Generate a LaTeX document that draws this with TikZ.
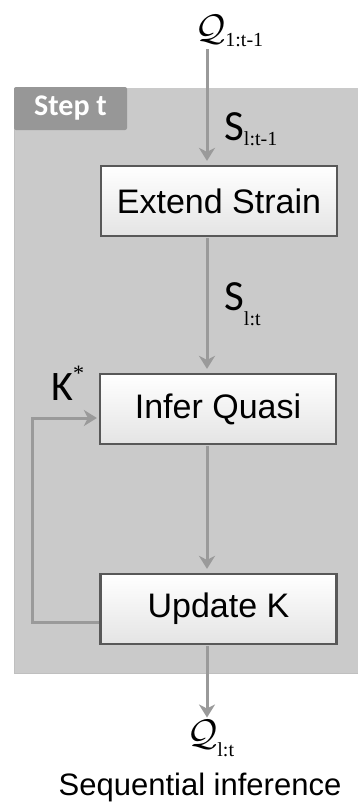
\documentclass[tikz,border=0pt]{standalone}
\usepackage{graphicx}
\usepackage{fontspec}
\setmainfont{Liberation Sans}
\newfontfamily\calib{Carlito}
\newfontfamily\tms{Liberation Serif}
\usetikzlibrary{arrows.meta}
\definecolor{panelgray}{HTML}{CACACA}
\definecolor{tabgray}{HTML}{979797}
\definecolor{arrowgray}{HTML}{9A9A9A}
\definecolor{boxborder}{HTML}{585858}
\definecolor{boxfill}{HTML}{E4E4E4}
\newcommand{\bigQ}{\scalebox{3.7}{$\mathcal{Q}$}}
\begin{document}
\begin{tikzpicture}[x=1pt,y=-1pt,
  flow/.style={draw=arrowgray, line width=3pt, -{Stealth[length=13pt,width=16pt,inset=4pt]}, shorten >=4pt},
  procbox/.style={draw=boxborder, line width=2.2pt, top color=white, bottom color=boxfill,
    minimum width=236pt, minimum height=70pt, inner sep=0pt, font=\fontsize{34}{40}\selectfont},
  lab/.style={anchor=base west, inner sep=0pt}]
\useasboundingbox (0,0) rectangle (358,806);
% panel
\fill[panelgray] (14,88) rectangle (358,674);
\draw[black!25, line width=0.8pt] (14.4,88) -- (14.4,673.6) -- (358,673.6);
\node[fill=tabgray, minimum width=113pt, minimum height=43pt, rounded corners=2pt, text=white,
  inner sep=0pt, font=\calib\bfseries\fontsize{30}{32}\selectfont] (tab) at (70.5,108.5) {Step t};
% boxes
\node[procbox] (extend) at (219,201) {Extend Strain};
\node[procbox] (infer) at (218,409) {Infer Quasi};
\node[procbox] (update) at (218.5,609) {Update K};
% labels
\node[lab] (qin) at (195,40) {\bigQ\raisebox{-6pt}{\tms\fontsize{20}{22}\selectfont 1:t-1}};
\node[lab] (s1) at (224,140) {\calib\fontsize{43}{45}\selectfont S\raisebox{-5pt}{\tms\fontsize{20}{22}\selectfont l:t-1}};
\node[lab] (s2) at (224,310) {\calib\fontsize{43}{45}\selectfont S\raisebox{-15pt}{\tms\fontsize{20}{22}\selectfont l:t}};
\node[lab] (kstar) at (51,400) {\calib\fontsize{42}{45}\selectfont K\raisebox{20pt}{\tms\fontsize{22}{24}\selectfont *}};
\node[lab] (qout) at (187,745) {\bigQ\raisebox{-11pt}{\tms\fontsize{20}{22}\selectfont l:t}};
\node (title) at (200,787) {\fontsize{31}{34}\selectfont Sequential inference};
% connectors
\coordinate (ax) at (207,0);
\draw[flow] ([yshift=-3pt]qin.south -| ax) -- (extend.north -| ax);
\draw[flow, shorten <=1pt] (extend.south -| ax) -- (infer.north -| ax);
\draw[flow, shorten <=1pt] (infer.south -| ax) -- (update.north -| ax);
\draw[flow, shorten <=1pt] (update.south -| ax) -- ([yshift=-2pt]qout.north -| ax);
\draw[flow, shorten >=2pt] ([yshift=-13pt]update.west) -- ++(-67,0) |- ([yshift=-9pt]infer.west);
\end{tikzpicture}
\end{document}
